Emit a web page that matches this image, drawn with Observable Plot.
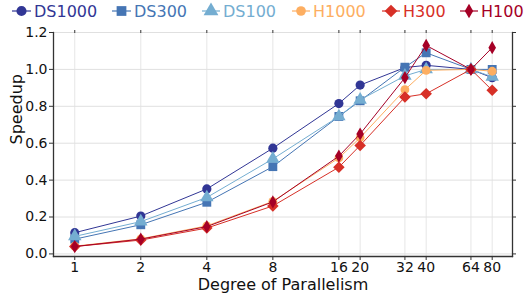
<!DOCTYPE html>
<html>
<head>
<meta charset="utf-8">
<script src="https://cdn.jsdelivr.net/npm/d3@7"></script>
<script src="https://cdn.jsdelivr.net/npm/@observablehq/plot@0.6"></script>
<style>
  body { margin: 0; background: #fff; font-family: "DejaVu Sans", sans-serif; }
  #wrap { width: 530px; height: 299px; position: relative; overflow: hidden; }
  #legend { position: relative; height: 22px; width: 530px; }
  .item { position: absolute; top: 0; height: 22px; display: flex; align-items: center; font-size: 16px; white-space: nowrap; }
  .item svg { display: block; }
</style>
</head>
<body>
<div id="wrap">
  <div id="legend"></div>
  <div id="chart"></div>
</div>
<script>
// ---- data ----
const parallelism = [1, 2, 4, 8, 16, 20, 32, 40, 64, 80];
const seriesNames = ["DS1000", "DS300", "DS100", "H1000", "H300", "H100"];
const ds1000 = [0.115, 0.205, 0.352, 0.573, 0.815, 0.915, 1.01, 1.022, 1.0, 0.955];
const ds300  = [0.080, 0.158, 0.280, 0.473, 0.745, 0.830, 1.012, 1.09, 1.0, 1.0];
const ds100  = [0.095, 0.175, 0.306, 0.515, 0.745, 0.835, 0.965, 1.0, 1.0, 0.96];
const h1000  = [0.042, 0.082, 0.152, 0.285, 0.520, 0.630, 0.890, 0.995, 1.0, 0.99];
const h300   = [0.040, 0.075, 0.140, 0.260, 0.470, 0.588, 0.850, 0.868, 1.0, 0.887];
const h100   = [0.040, 0.080, 0.148, 0.282, 0.530, 0.650, 0.955, 1.130, 1.0, 1.118];
const seriesValues = [ds1000, ds300, ds100, h1000, h300, h100];
const xTicks = [1, 2, 4, 8, 16, 20, 32, 40, 64, 80];
const yTicks = [0, 0.2, 0.4, 0.6, 0.8, 1.0, 1.2];

// ---- styles ----
const colors = ["#313695", "#4575b4", "#74add1", "#fdae61", "#d73027", "#a50026"];
const symbols = ["circle", "square", "triangle", "circle", "diamond2", "diamond"];
const radii = [4.6, 5.0, 5.0, 4.4, 5.2, 4.0];

const data = [];
seriesNames.forEach((s, i) => parallelism.forEach((p, j) => data.push({series: s, x: p, y: seriesValues[i][j]})));

const marks = [
  Plot.gridX(xTicks, {stroke: "#e6e6e6", strokeOpacity: 1, strokeWidth: 1}),
  Plot.gridY(yTicks, {stroke: "#e0e0e0", strokeOpacity: 1, strokeWidth: 1}),
];
seriesNames.forEach((s, i) => {
  const d = data.filter(r => r.series === s);
  marks.push(Plot.line(d, {x: "x", y: "y", stroke: colors[i], strokeWidth: 1}));
  marks.push(Plot.dot(d, {x: "x", y: "y", fill: colors[i], symbol: () => symbols[i], r: radii[i], stroke: "none"}));
});
marks.push(
  Plot.axisX(xTicks, {anchor: "bottom", tickSize: 4, tickPadding: 2, fontSize: 14, label: null, tickFormat: d => String(d), stroke: "#333"}),
  Plot.axisX(xTicks, {anchor: "top", tickSize: 3, label: null, tickFormat: () => "", stroke: "#333"}),
  Plot.axisY(yTicks, {anchor: "left", tickSize: 4, tickPadding: 2, fontSize: 14, label: null, tickFormat: d3.format(".1f"), stroke: "#333"}),
  Plot.axisY(yTicks, {anchor: "right", tickSize: 3, label: null, tickFormat: () => "", stroke: "#333"}),
  Plot.frame({anchor: "left", stroke: "#333", strokeWidth: 1.3}),
  Plot.frame({anchor: "right", stroke: "#333", strokeWidth: 1.3}),
  Plot.frame({anchor: "bottom", stroke: "#333", strokeWidth: 1.3}),
  Plot.text(["Degree of Parallelism"], {frameAnchor: "bottom", dy: 28, fontSize: 16, lineAnchor: "middle", fill: "#111"}),
  Plot.text(["Speedup"], {frameAnchor: "left", rotate: -90, dx: -37, fontSize: 16, fill: "#111"})
);

const chart = Plot.plot({
  width: 530,
  height: 277,
  marginTop: 10,
  marginBottom: 43,
  marginLeft: 53,
  marginRight: 18,
  style: {fontFamily: "DejaVu Sans, sans-serif", fontSize: "14px", color: "#111", background: "#fff"},
  x: {type: "log", base: 2, domain: [0.8, 99]},
  y: {domain: [-0.014, 1.2]},
  marks
});
document.getElementById("chart").appendChild(chart);

// ---- legend ----
const legendLineX = [12, 112, 202, 292, 382, 460];
const legendTextX = [34, 134, 223, 313, 403, 481];
const legend = document.getElementById("legend");
const legendSymbols = [d3.symbolCircle, d3.symbolSquare, d3.symbolTriangle, d3.symbolCircle, d3.symbolDiamond2, d3.symbolDiamond];
seriesNames.forEach((s, i) => {
  const item = document.createElement("div");
  item.className = "item";
  item.style.left = legendLineX[i] + "px";
  const w = legendTextX[i] - legendLineX[i];
  const svg = d3.create("svg").attr("width", w).attr("height", 22);
  svg.append("line").attr("x1", 0).attr("x2", w - 3).attr("y1", 11).attr("y2", 11).attr("stroke", colors[i]).attr("stroke-width", 1.2);
  const r = radii[i] * 1.1;
  svg.append("path").attr("d", d3.symbol(legendSymbols[i], Math.PI * r * r)()).attr("transform", `translate(${(w - 3) / 2},11)`).attr("fill", colors[i]);
  item.appendChild(svg.node());
  const t = document.createElement("span");
  t.textContent = s;
  t.style.color = colors[i];
  item.appendChild(t);
  legend.appendChild(item);
});
</script>
</body>
</html>
